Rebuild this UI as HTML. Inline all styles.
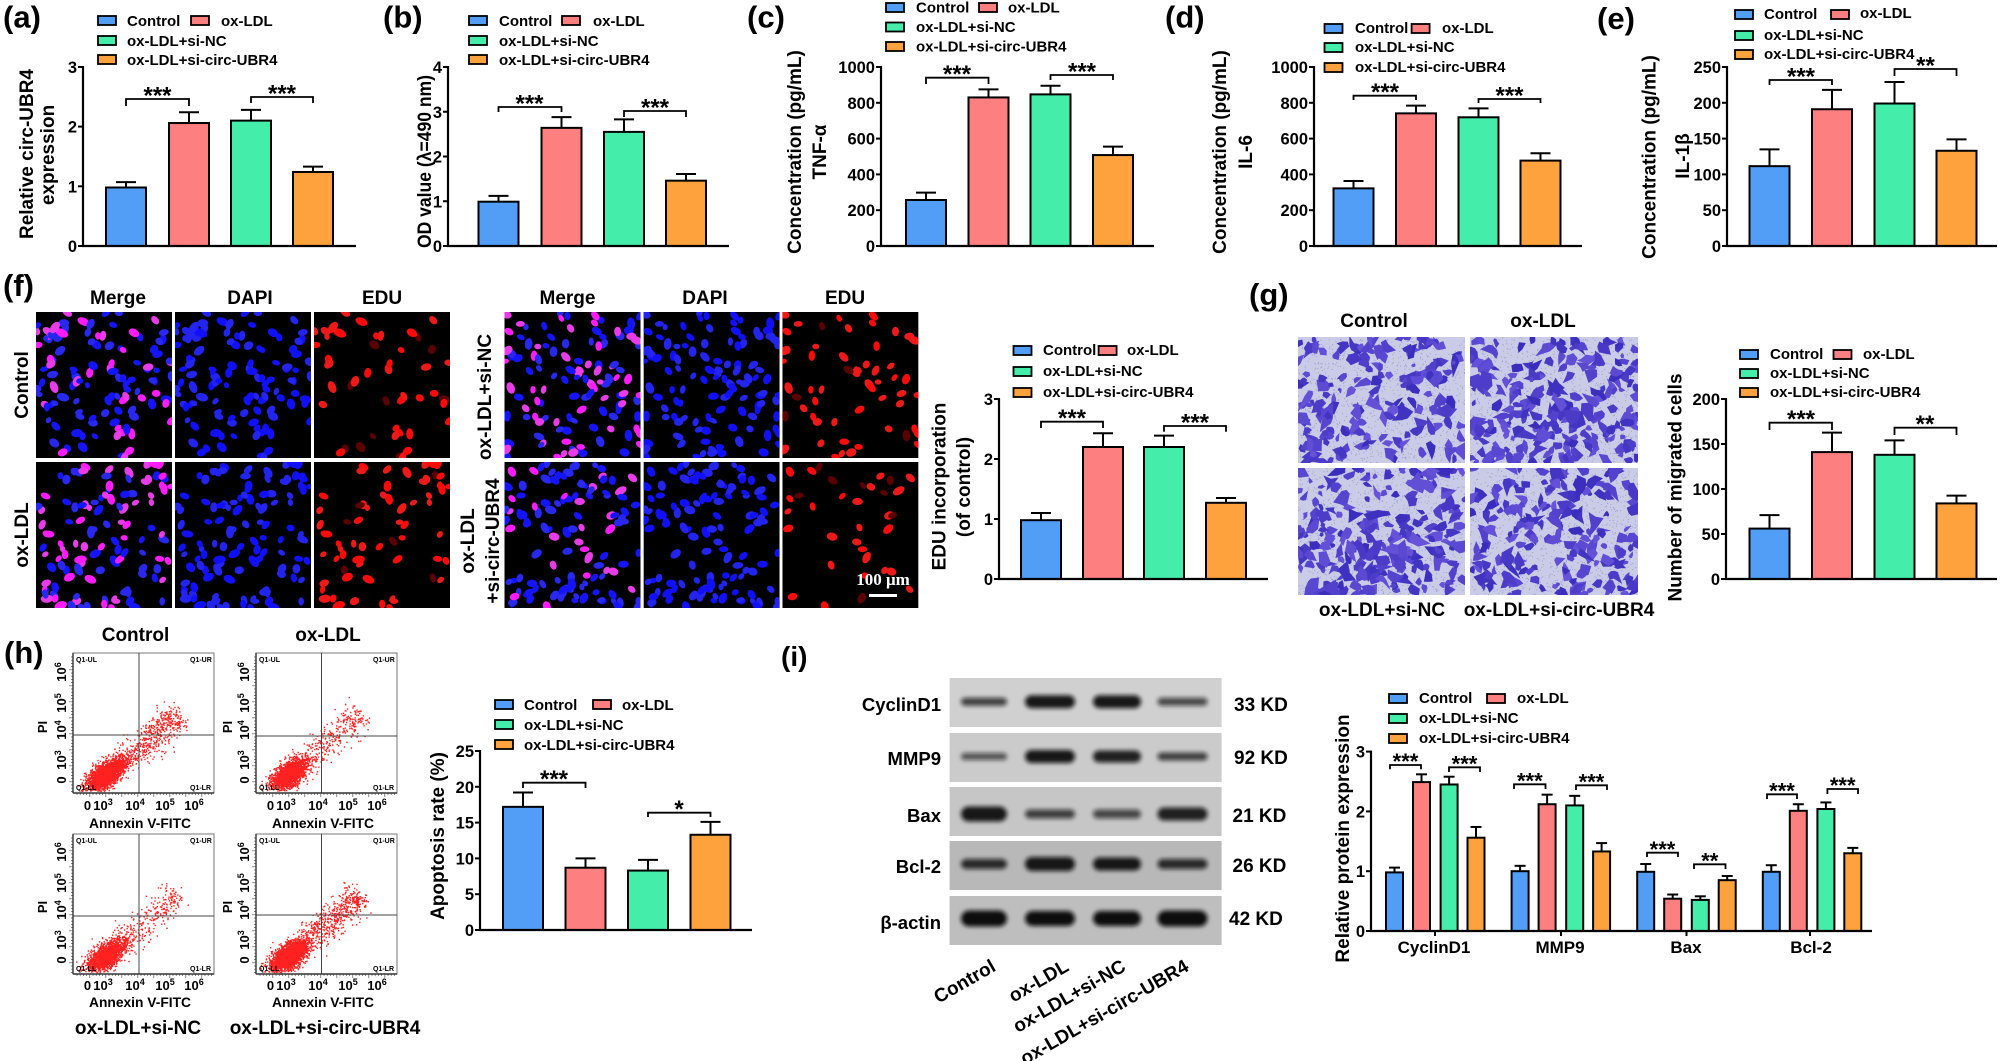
<!DOCTYPE html>
<html><head><meta charset="utf-8">
<style>
html,body{margin:0;padding:0;background:#fff;}
svg{display:block;}
text{font-family:"Liberation Sans",Arial,sans-serif;font-weight:bold;fill:#000;}
.lg{font-size:15px;}
.tk{font-size:16.5px;text-anchor:end;}
.yl{font-size:19px;text-anchor:middle;}
.pl{font-size:31px;}
.st{font-size:24px;text-anchor:middle;}
.si{font-size:22px;text-anchor:middle;}
.hd{font-size:19px;text-anchor:middle;}
.fx{font-size:13px;text-anchor:middle;}
.q{font-size:7px;font-weight:normal;fill:#555;}
.bl{font-size:18.5px;text-anchor:end;}
.kd{font-size:19px;}
.gl{font-size:17px;text-anchor:middle;}
</style></head><body>
<svg id="s" width="2000" height="1061" viewBox="0 0 2000 1061" xmlns="http://www.w3.org/2000/svg">
<defs><filter id="bf" x="-30%" y="-80%" width="160%" height="260%"><feGaussianBlur stdDeviation="2.2"/></filter></defs>
<rect width="2000" height="1061" fill="#fff"/>
<g id="img"></g>
<g id="sh"></g>

<!-- panel labels -->
<text class="pl" x="3" y="27.5">(a)</text>
<text class="pl" x="383" y="27.5">(b)</text>
<text class="pl" x="747" y="27.5">(c)</text>
<text class="pl" x="1165" y="27.5">(d)</text>
<text class="pl" x="1597" y="29">(e)</text>
<text class="pl" x="3" y="296">(f)</text>
<text class="pl" x="1249" y="305">(g)</text>
<text class="pl" x="4" y="663">(h)</text>
<text class="pl" x="781" y="666" style="font-size:28px">(i)</text>

<!-- legends -->
<g class="lg">
<text x="127" y="26">Control</text><text x="221" y="26">ox-LDL</text><text x="127" y="46">ox-LDL+si-NC</text><text x="127" y="65">ox-LDL+si-circ-UBR4</text>
<text x="499" y="26">Control</text><text x="593" y="26">ox-LDL</text><text x="499" y="46">ox-LDL+si-NC</text><text x="499" y="65">ox-LDL+si-circ-UBR4</text>
<text x="916" y="12.5">Control</text><text x="1008" y="12.5">ox-LDL</text><text x="916" y="32">ox-LDL+si-NC</text><text x="916" y="51.5">ox-LDL+si-circ-UBR4</text>
<text x="1355" y="33">Control</text><text x="1442" y="33">ox-LDL</text><text x="1355" y="52">ox-LDL+si-NC</text><text x="1355" y="72">ox-LDL+si-circ-UBR4</text>
<text x="1764" y="19">Control</text><text x="1860" y="18">ox-LDL</text><text x="1764" y="40">ox-LDL+si-NC</text><text x="1764" y="59">ox-LDL+si-circ-UBR4</text>
<text x="1043" y="355">Control</text><text x="1127" y="355">ox-LDL</text><text x="1043" y="376">ox-LDL+si-NC</text><text x="1043" y="397">ox-LDL+si-circ-UBR4</text>
<text x="1770" y="359">Control</text><text x="1863" y="359">ox-LDL</text><text x="1770" y="378">ox-LDL+si-NC</text><text x="1770" y="397">ox-LDL+si-circ-UBR4</text>
<text x="524" y="710">Control</text><text x="622" y="710">ox-LDL</text><text x="524" y="730">ox-LDL+si-NC</text><text x="524" y="750">ox-LDL+si-circ-UBR4</text>
<text x="1419" y="703">Control</text><text x="1517" y="703">ox-LDL</text><text x="1419" y="723">ox-LDL+si-NC</text><text x="1419" y="743">ox-LDL+si-circ-UBR4</text>
</g>

<!-- tick labels -->
<g class="tk">
<text x="77" y="252">0</text><text x="77" y="192.3">1</text><text x="77" y="132.6">2</text><text x="77" y="73">3</text>
<text x="442" y="252">0</text><text x="442" y="207.3">1</text><text x="442" y="162.5">2</text><text x="442" y="117.8">3</text><text x="442" y="73">4</text>
<text x="875" y="252">0</text><text x="875" y="216.2">200</text><text x="875" y="180.4">400</text><text x="875" y="144.6">600</text><text x="875" y="108.8">800</text><text x="875" y="73">1000</text>
<text x="1308" y="252">0</text><text x="1308" y="216.2">200</text><text x="1308" y="180.4">400</text><text x="1308" y="144.6">600</text><text x="1308" y="108.8">800</text><text x="1308" y="73">1000</text>
<text x="1721" y="252">0</text><text x="1721" y="216.2">50</text><text x="1721" y="180.4">100</text><text x="1721" y="144.6">150</text><text x="1721" y="108.8">200</text><text x="1721" y="73">250</text>
<text x="993" y="585">0</text><text x="993" y="525">1</text><text x="993" y="465">2</text><text x="993" y="405">3</text>
<text x="1720" y="585">0</text><text x="1720" y="540">50</text><text x="1720" y="495">100</text><text x="1720" y="450">150</text><text x="1720" y="405">200</text>
<text x="474" y="936">0</text><text x="474" y="900.2">5</text><text x="474" y="864.4">10</text><text x="474" y="828.6">15</text><text x="474" y="792.8">20</text><text x="474" y="757">25</text>
<text x="1365" y="937">0</text><text x="1365" y="877.2">1</text><text x="1365" y="817.4">2</text><text x="1365" y="757.6">3</text>
</g>

<!-- y axis titles -->
<text class="yl" transform="translate(33,154) rotate(-90)">Relative circ-UBR4</text>
<text class="yl" transform="translate(54,155) rotate(-90)">expression</text>
<text class="yl" transform="translate(431,161.5) rotate(-90)" textLength="173" lengthAdjust="spacingAndGlyphs">OD value (λ=490 nm)</text>
<text class="yl" transform="translate(801,152) rotate(-90)">Concentration (pg/mL)</text>
<text class="yl" transform="translate(826,152) rotate(-90)">TNF-α</text>
<text class="yl" transform="translate(1226,152) rotate(-90)">Concentration (pg/mL)</text>
<text class="yl" transform="translate(1252,152) rotate(-90)">IL-6</text>
<text class="yl" transform="translate(1655.5,157) rotate(-90)">Concentration (pg/mL)</text>
<text class="yl" transform="translate(1689,156) rotate(-90)">IL-1β</text>
<text class="yl" transform="translate(945.6,486.5) rotate(-90)">EDU incorporation</text>
<text class="yl" transform="translate(970,487) rotate(-90)">(of control)</text>
<text class="yl" transform="translate(1681.6,487.5) rotate(-90)">Number of migrated cells</text>
<text class="yl" transform="translate(444,836) rotate(-90)">Apoptosis rate (%)</text>
<text class="yl" transform="translate(1349,838.5) rotate(-90)">Relative protein expression</text>

<!-- significance stars -->
<g class="st">
<text x="157.5" y="103.3">***</text><text x="282" y="101.3">***</text>
<text x="529.5" y="111.3">***</text><text x="655" y="115.3">***</text>
<text x="957" y="82">***</text><text x="1082" y="79.3">***</text>
<text x="1385" y="100">***</text><text x="1509.5" y="103.3">***</text>
<text x="1801" y="84.3">***</text><text x="1925.5" y="73.3">**</text>
<text x="1072" y="426">***</text><text x="1195" y="430.3">***</text>
<text x="1801" y="427">***</text><text x="1925" y="432">**</text>
<text x="554" y="787">***</text><text x="679" y="817">*</text>
</g>
<g class="si">
<text x="1405.5" y="769.2">***</text><text x="1464.5" y="771.5">***</text>
<text x="1529.8" y="788.5">***</text><text x="1591.5" y="789.5">***</text>
<text x="1662.5" y="856.9">***</text><text x="1709.8" y="868.5">**</text>
<text x="1782" y="798.5">***</text><text x="1842.7" y="793.2">***</text>
</g>

<!-- (f) headers & row labels -->
<g class="hd">
<text x="118" y="304">Merge</text><text x="250" y="304">DAPI</text><text x="382" y="304">EDU</text>
<text x="567.5" y="304">Merge</text><text x="705" y="304">DAPI</text><text x="845" y="304">EDU</text>
<text transform="translate(28,385) rotate(-90)">Control</text>
<text transform="translate(28,535) rotate(-90)">ox-LDL</text>
<text transform="translate(491,397) rotate(-90)">ox-LDL+si-NC</text>
<text transform="translate(474,541) rotate(-90)">ox-LDL</text>
<text transform="translate(499,541) rotate(-90)">+si-circ-UBR4</text>
<!-- (g) -->
<text x="1374" y="327">Control</text><text x="1543" y="327">ox-LDL</text>
<text x="1382" y="616">ox-LDL+si-NC</text><text x="1559" y="616">ox-LDL+si-circ-UBR4</text>
<!-- (h) -->
<text x="135.5" y="641">Control</text><text x="328" y="641">ox-LDL</text>
<text x="138" y="1034">ox-LDL+si-NC</text><text x="325" y="1034">ox-LDL+si-circ-UBR4</text>
</g>

<!-- (h) flow axis labels -->
<g class="fx">
<text x="87.5" y="810">0</text><text x="103" y="810">10<tspan font-size="9" dy="-5">3</tspan></text><text x="135" y="810">10<tspan font-size="9" dy="-5">4</tspan></text><text x="165" y="810">10<tspan font-size="9" dy="-5">5</tspan></text><text x="194" y="810">10<tspan font-size="9" dy="-5">6</tspan></text>
<text x="270.5" y="810">0</text><text x="286" y="810">10<tspan font-size="9" dy="-5">3</tspan></text><text x="318" y="810">10<tspan font-size="9" dy="-5">4</tspan></text><text x="348" y="810">10<tspan font-size="9" dy="-5">5</tspan></text><text x="377" y="810">10<tspan font-size="9" dy="-5">6</tspan></text>
<text x="87.5" y="990">0</text><text x="103" y="990">10<tspan font-size="9" dy="-5">3</tspan></text><text x="135" y="990">10<tspan font-size="9" dy="-5">4</tspan></text><text x="165" y="990">10<tspan font-size="9" dy="-5">5</tspan></text><text x="194" y="990">10<tspan font-size="9" dy="-5">6</tspan></text>
<text x="270.5" y="990">0</text><text x="286" y="990">10<tspan font-size="9" dy="-5">3</tspan></text><text x="318" y="990">10<tspan font-size="9" dy="-5">4</tspan></text><text x="348" y="990">10<tspan font-size="9" dy="-5">5</tspan></text><text x="377" y="990">10<tspan font-size="9" dy="-5">6</tspan></text>
<text x="140" y="828" font-size="14" textLength="102" lengthAdjust="spacingAndGlyphs">Annexin V-FITC</text>
<text x="323" y="828" font-size="14" textLength="102" lengthAdjust="spacingAndGlyphs">Annexin V-FITC</text>
<text x="140" y="1007" font-size="14" textLength="102" lengthAdjust="spacingAndGlyphs">Annexin V-FITC</text>
<text x="323" y="1007" font-size="14" textLength="102" lengthAdjust="spacingAndGlyphs">Annexin V-FITC</text>
<text transform="translate(47,727) rotate(-90)">PI</text><text transform="translate(232,727) rotate(-90)">PI</text>
<text transform="translate(47,907) rotate(-90)">PI</text><text transform="translate(232,907) rotate(-90)">PI</text>
<text transform="translate(66,780) rotate(-90)">0</text><text transform="translate(66,760) rotate(-90)">10<tspan font-size="9" dy="-5">3</tspan></text><text transform="translate(66,730) rotate(-90)">10<tspan font-size="9" dy="-5">4</tspan></text><text transform="translate(66,703) rotate(-90)">10<tspan font-size="9" dy="-5">5</tspan></text><text transform="translate(66,672) rotate(-90)">10<tspan font-size="9" dy="-5">6</tspan></text>
<text transform="translate(249,780) rotate(-90)">0</text><text transform="translate(249,760) rotate(-90)">10<tspan font-size="9" dy="-5">3</tspan></text><text transform="translate(249,730) rotate(-90)">10<tspan font-size="9" dy="-5">4</tspan></text><text transform="translate(249,703) rotate(-90)">10<tspan font-size="9" dy="-5">5</tspan></text><text transform="translate(249,672) rotate(-90)">10<tspan font-size="9" dy="-5">6</tspan></text>
<text transform="translate(66,960) rotate(-90)">0</text><text transform="translate(66,940) rotate(-90)">10<tspan font-size="9" dy="-5">3</tspan></text><text transform="translate(66,910) rotate(-90)">10<tspan font-size="9" dy="-5">4</tspan></text><text transform="translate(66,883) rotate(-90)">10<tspan font-size="9" dy="-5">5</tspan></text><text transform="translate(66,852) rotate(-90)">10<tspan font-size="9" dy="-5">6</tspan></text>
<text transform="translate(249,960) rotate(-90)">0</text><text transform="translate(249,940) rotate(-90)">10<tspan font-size="9" dy="-5">3</tspan></text><text transform="translate(249,910) rotate(-90)">10<tspan font-size="9" dy="-5">4</tspan></text><text transform="translate(249,883) rotate(-90)">10<tspan font-size="9" dy="-5">5</tspan></text><text transform="translate(249,852) rotate(-90)">10<tspan font-size="9" dy="-5">6</tspan></text>
</g>
<g class="q">
<text x="76" y="662">Q1-UL</text><text x="190" y="662">Q1-UR</text><text x="76" y="790">Q1-LL</text><text x="190" y="790">Q1-LR</text>
<text x="259" y="662">Q1-UL</text><text x="373" y="662">Q1-UR</text><text x="259" y="790">Q1-LL</text><text x="373" y="790">Q1-LR</text>
<text x="76" y="843">Q1-UL</text><text x="190" y="843">Q1-UR</text><text x="76" y="971">Q1-LL</text><text x="190" y="971">Q1-LR</text>
<text x="259" y="843">Q1-UL</text><text x="373" y="843">Q1-UR</text><text x="259" y="971">Q1-LL</text><text x="373" y="971">Q1-LR</text>
</g>

<!-- scale bar label -->
<text x="883" y="585" text-anchor="middle" style="font-family:'Liberation Serif',serif;font-size:17px;fill:#fff;">100 μm</text>

<!-- (i) blot labels -->
<g class="bl">
<text x="941" y="711">CyclinD1</text><text x="941" y="765">MMP9</text><text x="941" y="822">Bax</text><text x="941" y="873">Bcl-2</text><text x="941" y="929">β-actin</text>
</g>
<g class="kd">
<text x="1234" y="711">33 KD</text><text x="1234" y="764">92 KD</text><text x="1232.5" y="822">21 KD</text><text x="1232.5" y="872">26 KD</text><text x="1229" y="925">42 KD</text>
</g>
<g class="hd" style="text-anchor:end">
<text transform="translate(997,970) rotate(-30)">Control</text>
<text transform="translate(1070,970) rotate(-30)">ox-LDL</text>
<text transform="translate(1127,970) rotate(-30)">ox-LDL+si-NC</text>
<text transform="translate(1190,970) rotate(-30)">ox-LDL+si-circ-UBR4</text>
</g>
<g class="gl">
<text x="1434" y="953">CyclinD1</text><text x="1560" y="953">MMP9</text><text x="1686" y="953">Bax</text><text x="1811" y="953">Bcl-2</text>
</g>
</svg>
<script>
const NS="http://www.w3.org/2000/svg";
const IMG=document.getElementById('img'),SH=document.getElementById('sh');
function E(t,a,p){const e=document.createElementNS(NS,t);for(const k in a)e.setAttribute(k,a[k]);(p||SH).appendChild(e);return e;}
function rng(a){return function(){a|=0;a=a+0x6D2B79F5|0;let t=Math.imul(a^a>>>15,1|a);t=t+Math.imul(t^t>>>7,61|t)^t;return((t^t>>>14)>>>0)/4294967296;};}
const C=['#529ef6','#fe7f7f','#44eeaa','#fea23e'];
function L(x1,y1,x2,y2,w,c){E('line',{x1,y1,x2,y2,stroke:c||'#000','stroke-width':w||2});}
function bars(o){const cap=o.cap||10;o.bars.forEach((x,i)=>{const v=o.vals[i];const yt=o.y0-v[0]*o.ppu,ye=o.y0-v[1]*o.ppu,cx=x+o.w/2;
 L(cx,yt,cx,ye,2);L(cx-cap,ye,cx+cap,ye,2);
 E('rect',{x:x,y:yt,width:o.w,height:o.y0-yt,fill:C[i%4],stroke:'#000','stroke-width':2});});
 (o.br||[]).forEach(b=>E('path',{d:`M${b[0]} ${b[3]}V${b[2]}H${b[1]}V${b[3]}`,fill:'none',stroke:'#000','stroke-width':1.8}));}
function axes(ax,y0,xend,ticks){L(ax,y0+1,ax,ticks[ticks.length-1]-1,2.2);L(ax-1,y0,xend,y0,2.2);ticks.forEach(t=>L(ax-5,t,ax,t,2));}
function chart(o){bars(o);axes(o.ax,o.y0,o.xend,o.ticks);}
function leg(b1,b2,tops){const xs=[b1,b2,b1,b1],ys=[tops[0],tops[0],tops[1],tops[2]];for(let i=0;i<4;i++)E('rect',{x:xs[i],y:ys[i],width:18,height:9,fill:C[i],stroke:'#000','stroke-width':1.8});}

// top row
chart({ax:83,y0:246,ppu:59.7,xend:356,ticks:[246,186.3,126.6,67],bars:[106,169,231,293],w:40,vals:[[0.98,1.07],[2.06,2.24],[2.1,2.28],[1.24,1.33]],br:[[126,189,99,106],[251,313,97,103]]});
chart({ax:448,y0:246,ppu:44.75,xend:729,ticks:[246,201.25,156.5,111.75,67],bars:[478.5,541.5,604,666],w:40,vals:[[0.99,1.12],[2.64,2.88],[2.55,2.83],[1.46,1.61]],br:[[498.5,561.5,107,112],[624,686,111,117]]});
chart({ax:881,y0:246,ppu:0.179,xend:1154,ticks:[246,210.2,174.4,138.6,102.8,67],bars:[906,968.5,1030.5,1093],w:40,vals:[[257,298],[830,875],[847,895],[508,555]],br:[[926,988.5,77.7,84],[1050.5,1113,75,80]]});
chart({ax:1314,y0:246,ppu:0.179,xend:1582,ticks:[246,210.2,174.4,138.6,102.8,67],bars:[1333.5,1396,1458.5,1520.5],w:40,vals:[[322,363],[741,784],[719,769],[477,518]],br:[[1353.5,1416,95.7,100],[1478.5,1540.5,99,103]]});
chart({ax:1727,y0:246,ppu:0.716,xend:1997,ticks:[246,210.2,174.4,138.6,102.8,67],bars:[1749.5,1812,1874.5,1936.5],w:40,vals:[[111.5,135],[191,218],[199,229],[133,149]],br:[[1769.5,1832,80,85],[1894.5,1956.5,69,76]]});
// f, g, h charts
chart({ax:999,y0:579,ppu:60,xend:1268,ticks:[579,519,459,399],bars:[1021,1083,1144,1206],w:40,vals:[[0.98,1.1],[2.2,2.43],[2.2,2.39],[1.27,1.35]],br:[[1041,1103,421.7,428],[1164,1226,426,431.7]]});
chart({ax:1726,y0:579,ppu:0.9,xend:1997,ticks:[579,534,489,444,399],bars:[1749.5,1812,1874.5,1936.5],w:40,vals:[[56,71],[141,162.6],[138,154],[84,92.6]],br:[[1769.5,1832,422.7,430],[1894.5,1956.5,427.7,435]]});
chart({ax:480,y0:930,ppu:7.16,xend:752,ticks:[930,894.2,858.4,822.6,786.8,751],bars:[503,565.5,628,690.5],w:40,vals:[[17.2,19.2],[8.7,10.0],[8.3,9.8],[13.3,15.1]],br:[[523,585.5,782.7,788],[648,710.5,812.7,817]]});
// i chart
const IV=[[[0.98,1.06],[2.49,2.62],[2.45,2.58],[1.56,1.74]],[[1.0,1.09],[2.12,2.28],[2.1,2.26],[1.33,1.47]],[[0.99,1.12],[0.54,0.61],[0.52,0.58],[0.85,0.92]],[[0.99,1.1],[2.01,2.12],[2.04,2.15],[1.3,1.39]]];
for(let g=0;g<4;g++){const s=1386+125.6*g;bars({y0:931,ppu:59.8,bars:[s,s+27,s+54.6,s+81.5],w:17,vals:IV[g],cap:5.5});}
bars({y0:931,ppu:59.8,bars:[],vals:[],br:[[1390,1421,765,769.3],[1449,1480,767.3,772],[1514,1545.5,784.3,789],[1576,1607,785.3,790],[1647,1678,852.7,857],[1694,1725.5,864.3,869],[1767,1797,794.3,799],[1827.4,1858,789,794]]});
axes(1371,931,1872,[931,871.2,811.4,751.6]);
[1435,1561,1686.5,1810].forEach(x=>L(x,931,x,936,2));

// legends
leg(98,191,[16,36,55]);leg(469,562,[16,36,55]);leg(886,979,[3,22.5,42]);leg(1324.5,1411.6,[24,43,63]);leg(1735,1831,[10,31,50]);
leg(1013.5,1098.6,[346,367,388]);leg(1740,1833.5,[350,369,388]);leg(495,593,[700,720,740]);leg(1389,1487,[694,714,734]);

// fluorescence images
function fluo(xs,y,w,h,seed,frac){const R=rng(seed);const cells=[];
 for(let i=0;i<118;i++){const rx=2.5+R()*1.6;cells.push({x:R()*w,y:R()*h,rx:rx,ry:rx*(1.2+R()*0.45),a:R()*180,p:R()<frac,b:R()});}
 xs.forEach((x0,k)=>{const sv=E('svg',{x:x0,y:y,width:w,height:h},IMG);E('rect',{width:w,height:h,fill:'#000'},sv);
  cells.forEach(c=>{let col;
   if(k==0)col=c.p?(c.b<0.5?'#ff1cff':'#e83ce8'):(c.b<0.5?'#1414ff':'#2828f0');
   else if(k==1)col=c.b<0.5?'#1010ff':'#2424f0';
   else{if(!c.p){if(c.b<0.1)col='#5a0000';else return;}else col=c.b<0.5?'#ff0a0a':'#ee1a1a';}
   E('ellipse',{cx:c.x.toFixed(1),cy:c.y.toFixed(1),rx:c.rx.toFixed(1),ry:c.ry.toFixed(1),fill:col,transform:`rotate(${c.a.toFixed(0)} ${c.x.toFixed(1)} ${c.y.toFixed(1)})`},sv);});});}
fluo([36,175,314],312,136,146,11,0.27);
fluo([36,175,314],462,136,146,23,0.5);
fluo([504.5,643.6,782.4],312,136,146,37,0.5);
fluo([504.5,643.6,782.4],462,136,146,49,0.24);
E('rect',{x:869,y:594,width:28,height:3,fill:'#fff'});

// crystal violet images
function cv(x0,y0,w,h,seed,n){const R=rng(seed);const sv=E('svg',{x:x0,y:y0,width:w,height:h},IMG);
 E('rect',{width:w,height:h,fill:'#cacce7'},sv);
 let d='';for(let i=0;i<1100;i++){d+=`M${(R()*w).toFixed(1)} ${(R()*h).toFixed(1)}h1v1h-1z`;}E('path',{d:d,fill:'#9c9ecb'},sv);
 for(let i=0;i<n;i++){const cx=R()*w,cy=R()*h,r0=2.4+R()*3.4,k=5+Math.floor(R()*3),rot=R()*6.28,el=1+R()*0.7;const pts=[];
  for(let j=0;j<k;j++){const an=j*6.283/k+(R()-0.5)*0.5;let r=r0*(0.55+R()*0.6);if(R()<0.22)r*=2.0;
   const px=Math.cos(an)*r*el,py=Math.sin(an)*r;pts.push((cx+px*Math.cos(rot)-py*Math.sin(rot)).toFixed(1)+','+(cy+px*Math.sin(rot)+py*Math.cos(rot)).toFixed(1));}
  const s=R();E('polygon',{points:pts.join(' '),fill:`rgb(${Math.round(58+s*45)},${Math.round(44+s*40)},${Math.round(188+s*30)})`},sv);}}
cv(1298,337,167,126,5,175);cv(1470,337,168,126,6,230);cv(1298,468,167,127,7,230);cv(1470,468,168,127,8,195);

// flow plots
function flow(fx,fy,vx,hy,nM,nT,seed){const W=141,H=140;
 E('rect',{x:fx,y:fy,width:W,height:H,fill:'#fff',stroke:'#777','stroke-width':1},IMG);
 const R=rng(seed);const g=()=>{let u=0;while(u===0)u=R();return Math.sqrt(-2*Math.log(u))*Math.cos(6.283*R());};
 let d='';const add=(x,y)=>{if(x<1||x>W-2||y<1||y>H-2)return;d+=`M${(fx+x).toFixed(1)} ${(fy+y).toFixed(1)}h1.4v1.4h-1.4z`;};
 for(let i=0;i<nM;i++){const a=g()*11,b=g()*5.5;add(33+a*0.78+b*0.62,121-a*0.62+b*0.78);}
 for(let i=0;i<nT;i++){const t=Math.pow(R(),0.75);const x=45+t*60,y=112-t*52;const n1=g()*7;add(x+n1*0.65+g()*3,y+n1*0.75+g()*3);}
 E('path',{d:d,fill:'#ff2020'},IMG);
 L(fx+vx,fy,fx+vx,fy+H,1,'#444');L(fx,fy+hy,fx+W,fy+hy,1,'#444');
 L(fx,fy+H,fx+W,fy+H,1.4,'#333');L(fx,fy,fx,fy+H,1.4,'#333');
 let t='';for(let x=4;x<W;x+=3.2)t+=`M${(fx+x).toFixed(1)} ${fy+H}v${(x%16<3.2)?4:2}`;for(let y=4;y<H;y+=3.2)t+=`M${fx} ${(fy+y).toFixed(1)}h-${(y%16<3.2)?4:2}`;
 E('path',{d:t,stroke:'#555','stroke-width':0.7,fill:'none'},IMG);}
flow(73,653,66,82,2200,520,101);
flow(256,653,65.5,83,1700,300,202);
flow(73,834,66,82,1700,280,303);
flow(256,834,65.5,81,2400,560,404);

// western blot
const rows=[[678,'#d0d0d0',701.7,[8,13,13,8],[0.75,0.95,0.95,0.7]],[733,'#cbcbcb',756.5,[7,13,12,8],[0.65,0.95,0.9,0.75]],[787,'#c6c6c6',814,[15,9,9,13],[0.95,0.75,0.7,0.9]],[841,'#b8b8b8',864,[10,14,13,10],[0.85,0.95,0.95,0.85]],[896,'#bebebe',918.5,[16,15,15,16],[1,1,1,1]]];
const lanes=[[961,46],[1025,50],[1093,48],[1157.5,50]];
rows.forEach(r=>{E('rect',{x:949.6,y:r[0],width:272,height:49,fill:r[1]},IMG);
 lanes.forEach((ln,i)=>{const h=r[3][i];E('rect',{x:ln[0],y:r[2]-h/2,width:ln[1],height:h,rx:h/2,fill:'#111','fill-opacity':r[4][i],filter:'url(#bf)'},IMG);});});
</script>
</body></html>
